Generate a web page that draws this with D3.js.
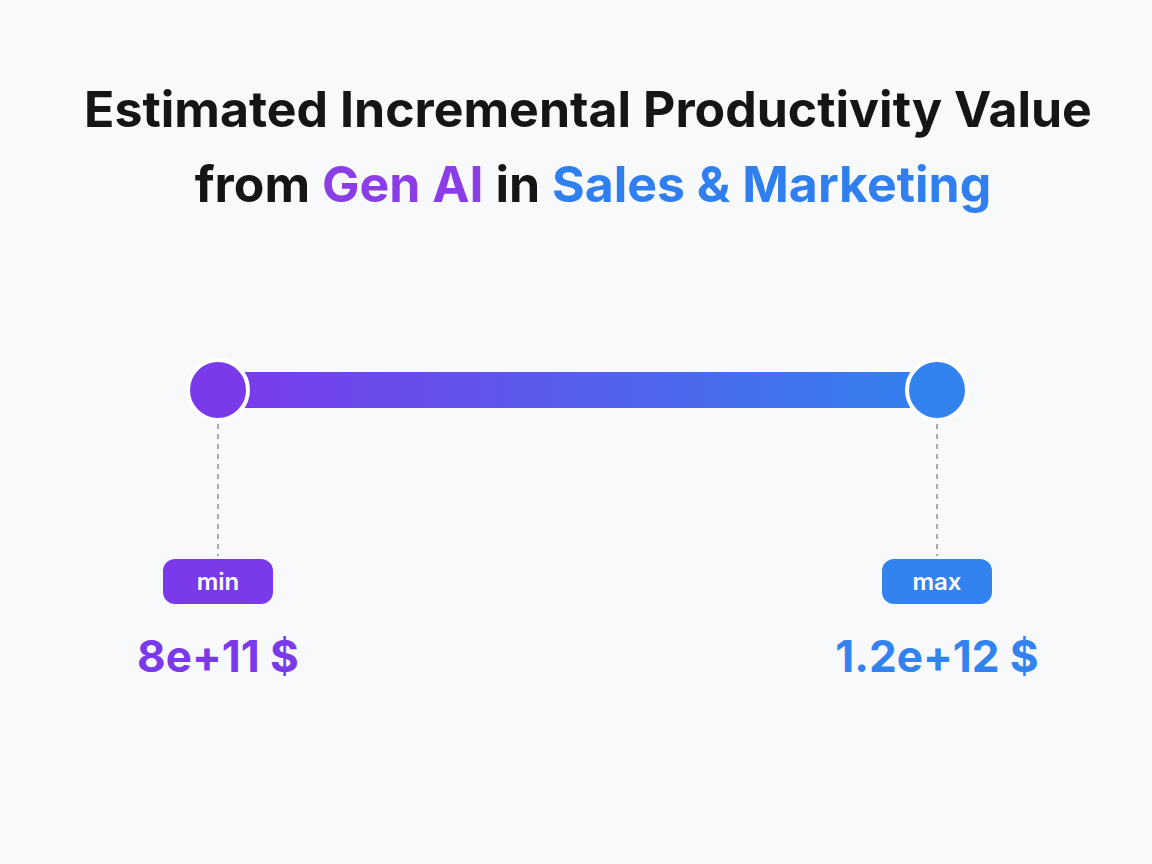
<!DOCTYPE html>
<html><head><meta charset="utf-8">
<script src="https://cdn.jsdelivr.net/npm/d3@7"></script>
<style>body{margin:0;background:#f8f9fb}</style></head>
<body><svg id="c" width="1152" height="864"></svg>
<script>
const labels = ["min","max"];
const values = [8e11, 1.2e12];
const valueTexts = ["8e+11 $","1.2e+12 $"];
const colors = ["#7b3aea","#3282f0"];

const svg = d3.select("#c");
svg.append("rect").attr("width",1152).attr("height",864).attr("fill","#f8f9fb");
const defs = svg.append("defs");
const g = defs.append("linearGradient").attr("id","gr");
g.append("stop").attr("offset","0%").attr("stop-color",colors[0]);
g.append("stop").attr("offset","100%").attr("stop-color",colors[1]);

const font = "Inter, 'Noto Sans', sans-serif";
const t1 = svg.append("text").attr("x",588).attr("y",127).attr("text-anchor","middle")
  .attr("font-family",font).attr("font-weight",700).attr("font-size",50).attr("fill","#151515")
  .text("Estimated Incremental Productivity Value");
const t2 = svg.append("text").attr("x",593).attr("y",202).attr("text-anchor","middle")
  .attr("font-family",font).attr("font-weight",700).attr("font-size",50);
t2.append("tspan").attr("fill","#151515").text("from ");
t2.append("tspan").attr("fill","#8b3ee8").text("Gen AI");
t2.append("tspan").attr("fill","#151515").text(" in ");
t2.append("tspan").attr("fill","#2f7ff0").text("Sales & Marketing");

const x = d3.scaleLinear().domain(values).range([218,937]);
const y = 390;
svg.append("rect").attr("x",x(values[0])).attr("y",y-18).attr("width",x(values[1])-x(values[0]))
  .attr("height",36).attr("fill","url(#gr)");
values.forEach((v,i)=>{
  const cx = x(v);
  svg.append("line").attr("x1",cx).attr("x2",cx).attr("y1",424).attr("y2",556)
    .attr("stroke","#aaa").attr("stroke-width",2).attr("stroke-dasharray","5,5");
  svg.append("circle").attr("cx",cx).attr("cy",y).attr("r",30).attr("fill",colors[i])
    .attr("stroke","#fff").attr("stroke-width",4);
  svg.append("rect").attr("x",cx-55).attr("y",559).attr("width",110).attr("height",45).attr("rx",12)
    .attr("fill",colors[i]);
  svg.append("text").attr("x",cx).attr("y",590).attr("text-anchor","middle").attr("font-family",font)
    .attr("font-weight",600).attr("font-size",24).attr("fill","#fff").text(labels[i]);
  svg.append("text").attr("x",cx).attr("y",672).attr("text-anchor","middle").attr("font-family",font)
    .attr("font-weight",700).attr("font-size",44).attr("fill",colors[i]).text(valueTexts[i]);
});
</script></body></html>
